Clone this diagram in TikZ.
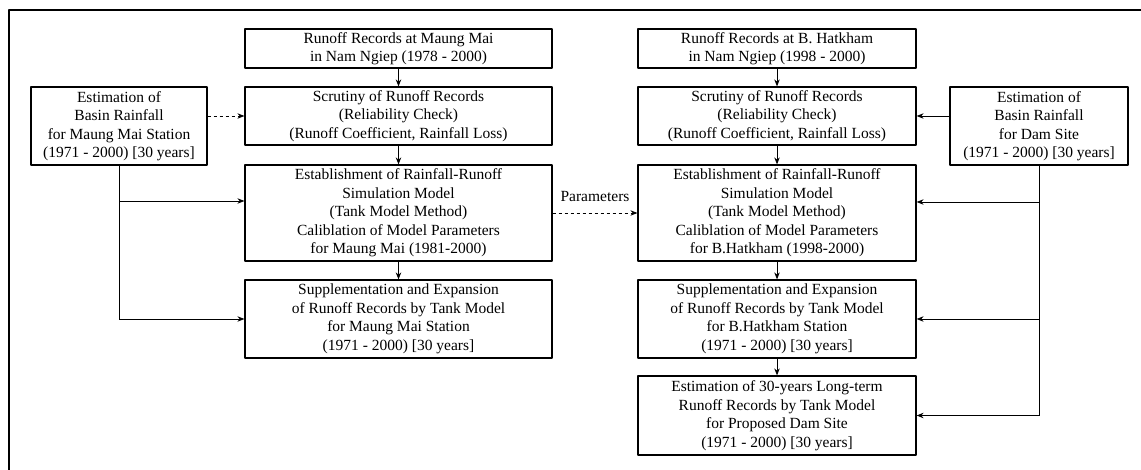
\documentclass[tikz,border=0pt]{standalone}
\usepackage{fontspec}
\setmainfont{Liberation Serif}
\usetikzlibrary{arrows.meta}
\begin{document}
\begin{tikzpicture}[x=1pt, y=-1pt, line join=round, >={Stealth[length=7pt,width=5.5pt]},
		font=\fontsize{15.5}{18.5}\selectfont,
		box/.style={draw, line width=1.2pt, align=center, inner sep=0pt},
		lbox/.style={box, minimum width=307pt},
		rbox/.style={box, minimum width=278pt},
		link/.style={->, line width=0.9pt}]
	\useasboundingbox (0,0) rectangle (1141,470);
	% frame
	\draw[line width=1.4pt] (9,470) -- (9,10) -- (1141,10);
	% left column
	\node[lbox, minimum height=39pt] (L1) at (398.5,48.5) {Runoff Records at Maung Mai\\in Nam Ngiep (1978 - 2000)};
	\node[lbox, minimum height=58pt] (L2) at (398.5,116) {Scrutiny of Runoff Records\\(Reliability Check)\\(Runoff Coefficient, Rainfall Loss)};
	\node[lbox, minimum height=96pt] (L3) at (398.5,213) {Establishment of Rainfall-Runoff\\Simulation Model\\(Tank Model Method)\\Caliblation of Model Parameters\\for Maung Mai (1981-2000)};
	\node[lbox, minimum height=78pt] (L4) at (398.5,319) {Supplementation and Expansion\\of Runoff Records by Tank Model\\for Maung Mai Station\\(1971 - 2000) [30 years]};
	\node[box, minimum width=176pt, minimum height=78pt] (E1) at (119,126) {Estimation of\\Basin Rainfall\\for Maung Mai Station\\(1971 - 2000) [30 years]};
	% right column
	\node[rbox, minimum height=39pt] (R1) at (777,48.5) {Runoff Records at B. Hatkham\\in Nam Ngiep (1998 - 2000)};
	\node[rbox, minimum height=58pt] (R2) at (777,116) {Scrutiny of Runoff Records\\(Reliability Check)\\(Runoff Coefficient, Rainfall Loss)};
	\node[rbox, minimum height=96pt] (R3) at (777,213) {Establishment of Rainfall-Runoff\\Simulation Model\\(Tank Model Method)\\Caliblation of Model Parameters\\for B.Hatkham (1998-2000)};
	\node[rbox, minimum height=78pt] (R4) at (777,319) {Supplementation and Expansion\\of Runoff Records by Tank Model\\for B.Hatkham Station\\(1971 - 2000) [30 years]};
	\node[rbox, minimum height=79pt] (R5) at (777,415.5) {Estimation of 30-years Long-term\\Runoff Records by Tank Model\\for Proposed Dam Site\\(1971 - 2000) [30 years]};
	\node[box, minimum width=178pt, minimum height=78pt] (E2) at (1039,126) {Estimation of\\Basin Rainfall\\for Dam Site\\(1971 - 2000) [30 years]};
	% vertical flow
	\draw[link] (L1) -- (L2);
	\draw[link] (L2) -- (L3);
	\draw[link] (L3) -- (L4);
	\draw[link] (R1) -- (R2);
	\draw[link] (R2) -- (R3);
	\draw[link] (R3) -- (R4);
	\draw[link] (R4) -- (R5);
	% rainfall feeds
	\coordinate (e1c) at ([yshift=12pt]L3.west);
	\coordinate (e2c) at ([yshift=11pt]R3.east);
	\draw[link, dashed] (E1.east |- L2.west) -- (L2.west);
	\draw[line width=0.9pt] (E1.south) -- (E1.south |- L4.west);
	\draw[link] (E1.south |- e1c) -- (e1c);
	\draw[link] (E1.south |- L4.west) -- (L4.west);
	\draw[link] (E2.west |- R2.east) -- (R2.east);
	\draw[line width=0.9pt] (E2.south) -- (E2.south |- R5.east);
	\draw[link] (E2.south |- e2c) -- (e2c);
	\draw[link] (E2.south |- R4.east) -- (R4.east);
	\draw[link] (E2.south |- R5.east) -- (R5.east);
	% parameters
	\draw[link, dashed] (L3.east) -- (R3.west) node[midway, above=8pt] (par) {Parameters};
\end{tikzpicture}
\end{document}
